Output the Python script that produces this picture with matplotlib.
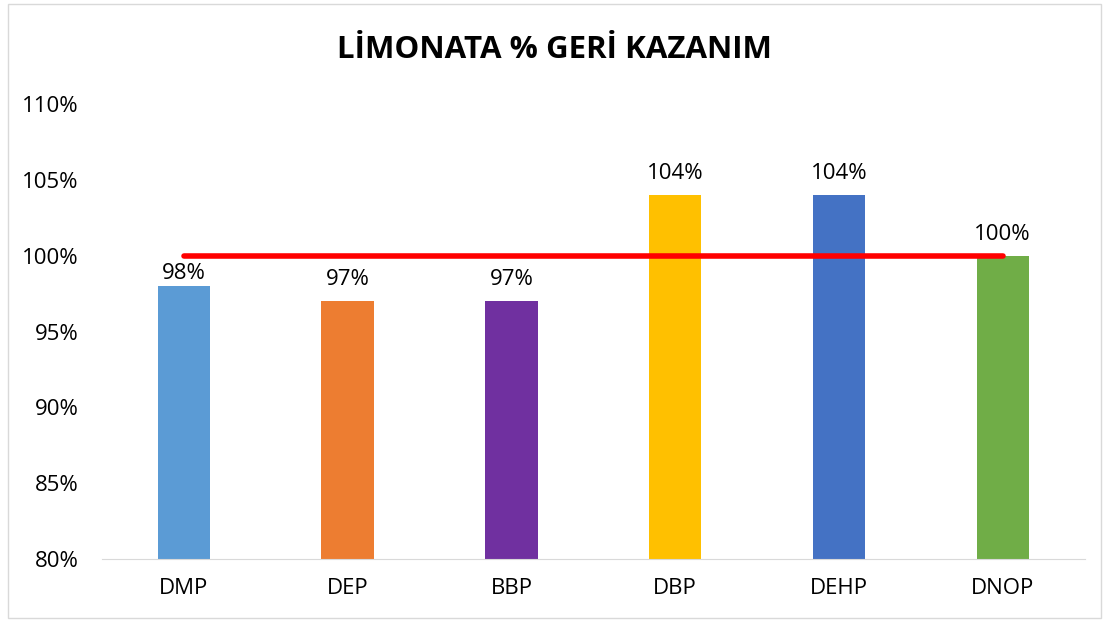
import matplotlib.pyplot as plt
from matplotlib.patches import Rectangle
from matplotlib.ticker import FuncFormatter

categories = ['DMP', 'DEP', 'BBP', 'DBP', 'DEHP', 'DNOP']
recovery = [98, 97, 97, 104, 104, 100]
colors = ['#5B9BD5', '#ED7D31', '#7030A0', '#FFC000', '#4472C4', '#70AD47']
target = 100

plt.rcParams['font.family'] = ['Open Sans', 'DejaVu Sans']

fig = plt.figure(figsize=(11.09, 6.21), dpi=100)
ax = fig.add_axes([0.092, 0.0998, 0.886, 0.7327])

x = range(len(categories))
ax.bar(x, [v - 80 for v in recovery], bottom=80, width=0.32, color=colors)
ax.plot([0, len(categories) - 1], [target, target], color='#FF0000',
        linewidth=4, solid_capstyle='round')

# the first label sits a bit lower in the original (under the red line)
label_offsets = [1.5, 8, 8, 8, 8, 8]
for i, v in enumerate(recovery):
    ax.annotate(f'{v}%', (i, v), xytext=(0, label_offsets[i]),
                textcoords='offset points', ha='center', va='bottom',
                fontsize=16, color='black')

ax.set_xlim(-0.5, len(categories) - 0.5)
ax.set_ylim(80, 110)
ax.set_yticks(range(80, 111, 5))
ax.yaxis.set_major_formatter(FuncFormatter(lambda v, p: f'{v:.0f}%'))
ax.set_xticks(list(x))
ax.set_xticklabels(categories)
ax.tick_params(axis='both', length=0, labelsize=16, colors='black')
ax.tick_params(axis='y', pad=17)
ax.tick_params(axis='x', pad=14)
for s in ['top', 'right', 'left']:
    ax.spines[s].set_visible(False)
ax.spines['bottom'].set_color('#D9D9D9')

fig.text(0.5, 0.919, 'LİMONATA % GERİ KAZANIM', ha='center', va='center',
         fontsize=22.5, fontweight='bold')

fig.patches.append(Rectangle((0.007, 0.005), 0.986, 0.988, transform=fig.transFigure,
                             fill=False, edgecolor='#D9D9D9', linewidth=1))

fig.savefig('out.png', dpi=100)
